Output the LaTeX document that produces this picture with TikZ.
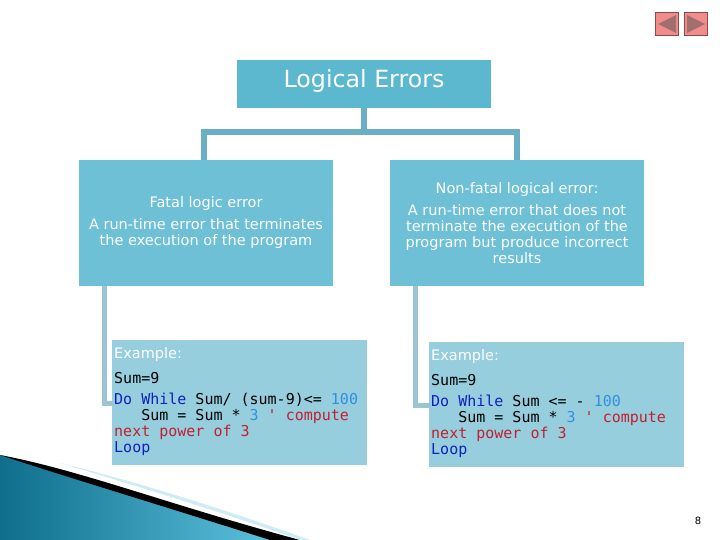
\documentclass[tikz,border=0pt]{standalone}
\usepackage{fontspec}
\setmainfont{DejaVu Sans}
\setmonofont{DejaVu Sans Mono}
\definecolor{titlec}{HTML}{5BB8CF}
\definecolor{boxc}{HTML}{6DC0D6}
\definecolor{codec}{HTML}{97CEDE}
\definecolor{linec}{HTML}{6AAFC6}
\definecolor{line2}{HTML}{9CC4D4}
\definecolor{kw}{HTML}{1020C0}
\definecolor{num}{HTML}{3090E0}
\definecolor{cm}{HTML}{C02030}
\definecolor{navf}{HTML}{F08C8C}
\definecolor{navd}{HTML}{8C4A4A}
\definecolor{swA}{HTML}{0E6E8C}
\definecolor{swB}{HTML}{5CC0DC}
\begin{document}
\begin{tikzpicture}[x=1pt,y=-1pt,
  code/.style={font=\ttfamily\fontsize{15}{16}\selectfont,align=left,anchor=north west,inner sep=0pt},
  btxt/.style={align=center,font=\fontsize{14.5}{16}\selectfont,color=white}]
\useasboundingbox (0,0) rectangle (720,540);
% swoosh
\shade[left color=swA,right color=swB] (0,455) -- (0,540) -- (270,540) .. controls (160,500) and (60,470) .. (0,455);
\fill[black] (0,455) .. controls (80,470) and (170,505) .. (300,540) -- (270,540) .. controls (160,505) and (60,475) .. (0,455);
\fill[swB!30] (60,463) .. controls (150,490) and (230,515) .. (300,540) -- (310,540) .. controls (240,515) and (150,485) .. (60,463);
% nav
\node[draw=navd,fill=navf,minimum size=23pt,inner sep=0] (nb) at (667,24) {};
\node[draw=navd,fill=navf,minimum size=23pt,inner sep=0] (nf) at (696,24) {};
\fill[navd!80] (658,24) -- (676,15) -- (676,33) -- cycle;
\fill[navd!80] (705,24) -- (687,15) -- (687,33) -- cycle;
% boxes
\fill[titlec] (237,60) rectangle (491,108);
\node (t) at (364,81) {\fontsize{23.7}{26}\selectfont\color{white}Logical Errors};
\fill[boxc] (79,160) rectangle (333,286);
\fill[boxc] (390,160) rectangle (644,286);
\fill[codec] (112,340) rectangle (367,465);
\fill[codec] (429,342) rectangle (684,467);
% connectors
\draw[linec,line width=6pt] (364,108) -- (364,132);
\draw[linec,line width=6pt] (204,160) -- (204,132) -- (517,132) -- (517,160);
\draw[line2,line width=5pt] (104,286) -- (104,403) -- (114,403);
\draw[line2,line width=5pt] (415,286) -- (415,405) -- (431,405);
% texts
\node[btxt] (l) at (206,222) {Fatal logic error\\[6pt]A run-time error that terminates\\the execution of the program};
\node[btxt] (r) at (517,223) {Non-fatal logical error:\\[6pt]A run-time error that does not\\terminate the execution of the\\program but produce incorrect\\results};
\node[anchor=west,inner sep=0,font=\fontsize{14.5}{16}\selectfont,color=white] (e1) at (114,354) {Example:};
\node[anchor=west,inner sep=0,font=\fontsize{14.5}{16}\selectfont,color=white] (e2) at (431,356) {Example:};
\node[code] (c1) at (114,372) {Sum=9};
\node[code] (c1b) at (114,393) {\textcolor{kw}{Do While} Sum/ (sum-9)<= \textcolor{num}{100}\\
\ \ \ Sum = Sum * \textcolor{num}{3} \textcolor{cm}{' compute}\\
\textcolor{cm}{next power of 3}\\
\textcolor{kw}{Loop}};
\node[code] (c2) at (431,374) {Sum=9};
\node[code] (c2b) at (431,395) {\textcolor{kw}{Do While} Sum <= - \textcolor{num}{100}\\
\ \ \ Sum = Sum * \textcolor{num}{3} \textcolor{cm}{' compute}\\
\textcolor{cm}{next power of 3}\\
\textcolor{kw}{Loop}};
\node[font=\fontsize{10}{12}\selectfont] (pg) at (698,521) {8};
\end{tikzpicture}
\end{document}
